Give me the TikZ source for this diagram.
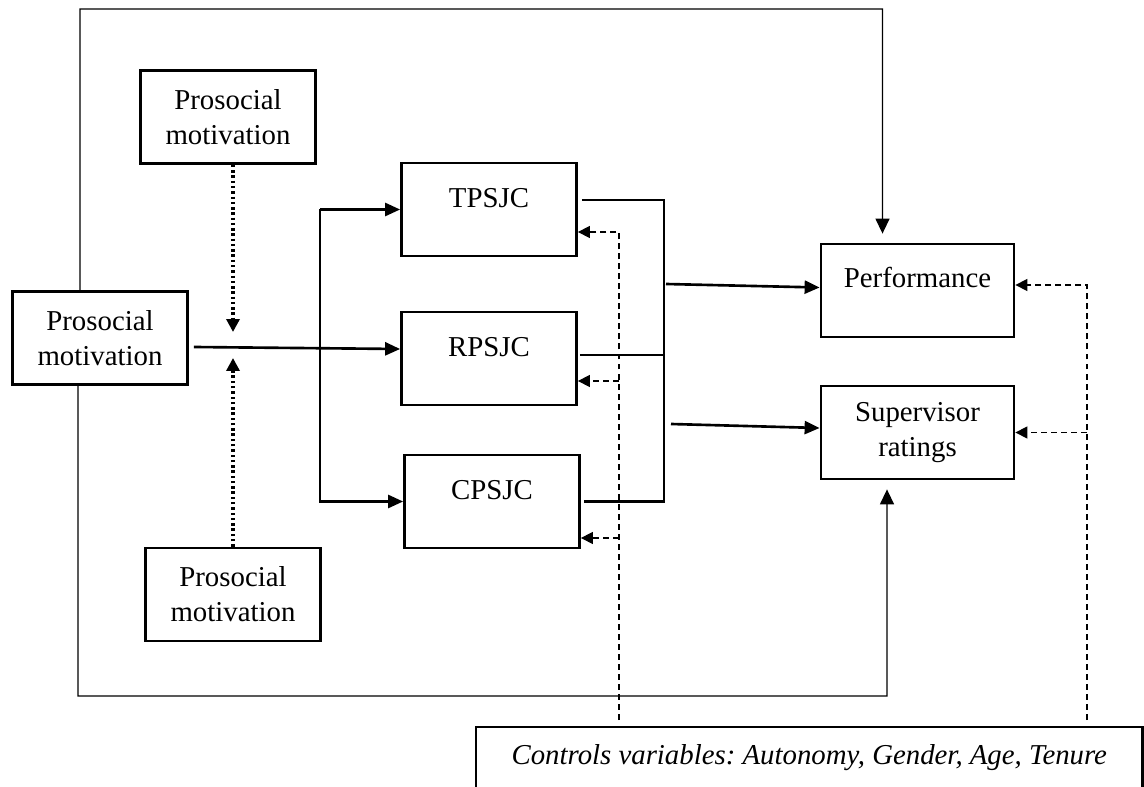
\documentclass[tikz,border=0pt]{standalone}
\usepackage{fontspec}
\setmainfont{Liberation Serif}
\usepackage{tikz}
\usetikzlibrary{arrows.meta, calc, positioning}
\frenchspacing

\begin{document}
\begin{tikzpicture}[x=0.02cm, y=-0.02cm,
  font=\fontsize{16.4}{19.9}\selectfont,
  varbox/.style={draw, line width=1.6pt, inner sep=0pt, align=center, minimum width=3.5cm, minimum height=1.86cm},
  topbox/.style={varbox, text height=0.9cm, text depth=0.96cm},
  outbox/.style={varbox, minimum width=3.86cm},
  conn/.style={line width=1.5pt, -{Triangle[length=3mm, width=2.6mm]}},
  joinline/.style={line width=1.5pt},
  modline/.style={line width=2pt, dash pattern=on 1.4pt off 1.6pt, -{Triangle[length=2.6mm, width=2.6mm]}},
  frameline/.style={line width=0.8pt, -{Triangle[length=3mm, width=2.8mm]}, shorten >=0.18cm},
  ctrlline/.style={line width=0.7pt, dash pattern=on 3.4pt off 2.3pt, -{Triangle[length=2.4mm, width=2.4mm]}}]
\useasboundingbox (0,0) rectangle (1144,787);

% variables
\node[varbox] (pmT) at (228,117) {Prosocial\\motivation};
\node[varbox] (pmL) at (100,338) {Prosocial\\motivation};
\node[varbox] (pmB) at (233,594.5) {Prosocial\\motivation};
\node[topbox] (TPSJC) at (489,209.5) {TPSJC};
\node[topbox] (RPSJC) at (489,358.5) {RPSJC};
\node[topbox] (CPSJC) at (492,501.5) {CPSJC};
\node[outbox, text height=0.88cm, text depth=0.98cm] (perf) at (917.5,290.5) {Performance};
\node[outbox] (sup) at (917.5,432.5) {Supervisor\\ratings};
\node[anchor=north west, inner sep=0pt, minimum width=13.32cm, text height=0.74cm, text depth=0.46cm] (ctrl) at (476,727)
  {\itshape Controls variables: Autonomy, Gender, Age, Tenure};
\draw[line width=1.6pt] (ctrl.south west) -- (ctrl.north west) -- (ctrl.north east) -- (ctrl.south east);

\coordinate (split) at (320,348);
\coordinate (mod) at (233,345);
\coordinate (merge) at (664,350);
\coordinate (frametop) at (80,9);
\coordinate (framebot) at (78,696);
\coordinate (cvL) at (619,0);
\coordinate (cvR) at (1087,0);

% prosocial motivation -> PSJC
\draw[conn] ([xshift=0.1cm,yshift=-0.18cm]pmL.east) -- ([yshift=0.19cm]RPSJC.west);
\draw[conn] (split |- TPSJC.west) -- (TPSJC.west);
\draw[conn] (split |- TPSJC.west) |- (CPSJC.west);
% moderators
\draw[modline] (pmT.south -| mod) -- ([yshift=0.26cm]mod);
\draw[modline] (pmB.north -| mod) -- ([yshift=-0.26cm]mod);

% PSJC -> outcomes
\draw[joinline] ([xshift=0.08cm,yshift=0.19cm]TPSJC.east) -| (merge |- CPSJC.east) -- ([xshift=0.06cm]CPSJC.east);
\draw[joinline] ([xshift=0.04cm,yshift=0.07cm]RPSJC.east) -- ([yshift=0.07cm]RPSJC.east -| merge);
\draw[conn] ([xshift=0.04cm,yshift=0.13cm]perf.west -| merge) -- ([yshift=0.06cm]perf.west);
\draw[conn] ([xshift=0.14cm,yshift=0.17cm]sup.west -| merge) -- ([yshift=0.09cm]sup.west);

% direct paths
\draw[frameline] ([xshift=-0.4cm]pmL.north) -- (frametop) -| ([xshift=-0.7cm]perf.north);
\draw[frameline] ([xshift=-0.44cm]pmL.south) -- (framebot) -| ([xshift=-0.61cm]sup.south);

% control variables
\draw[ctrlline, shorten <=0.14cm] (ctrl.north -| cvL) |- ([yshift=-0.45cm]TPSJC.east);
\draw[ctrlline] ([yshift=-0.45cm]RPSJC.east -| cvL) -- ([yshift=-0.45cm]RPSJC.east);
\draw[ctrlline] ([yshift=-0.73cm]CPSJC.east -| cvL) -- ([yshift=-0.73cm]CPSJC.east);
\draw[ctrlline, shorten <=0.14cm] (ctrl.north -| cvR) |- ([yshift=0.11cm]perf.east);
\draw[ctrlline] (sup.east -| cvR) -- (sup.east);
\end{tikzpicture}
\end{document}
